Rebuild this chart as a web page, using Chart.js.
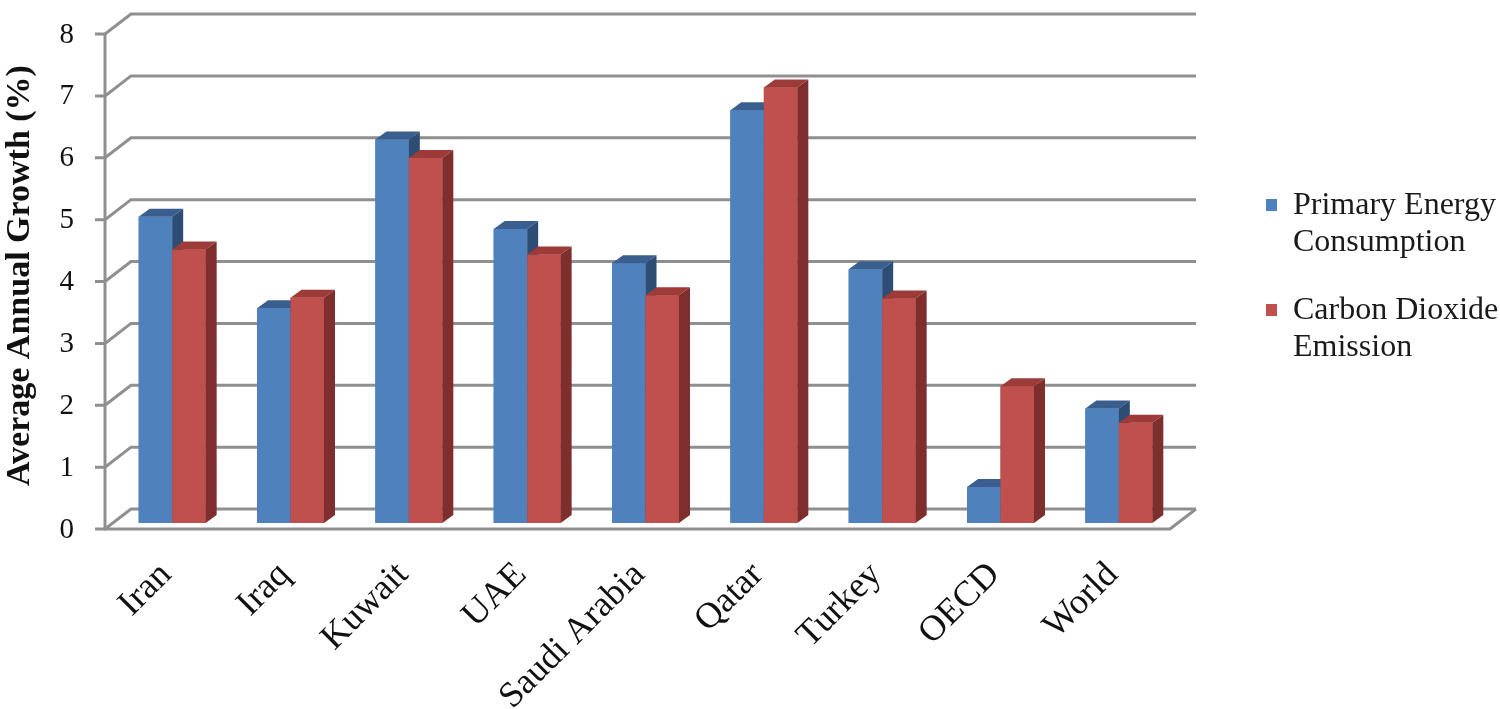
<!DOCTYPE html>
<html>
<head>
<meta charset="utf-8">
<title>Average Annual Growth</title>
<script src="https://cdn.jsdelivr.net/npm/chart.js@4.4.1/dist/chart.umd.min.js"></script>
<style>
    html, body { margin: 0; padding: 0; background: #ffffff; }
    #wrap { width: 1500px; height: 709px; }
</style>
</head>
<body>
<div id="wrap"><canvas id="growthChart" width="1500" height="709"></canvas></div>
<script>
const countries = ['Iran', 'Iraq', 'Kuwait', 'UAE', 'Saudi Arabia', 'Qatar', 'Turkey', 'OECD', 'World'];
const energyGrowth = [4.95, 3.47, 6.2, 4.75, 4.2, 6.67, 4.1, 0.58, 1.85];
const co2Growth = [4.42, 3.64, 5.9, 4.34, 3.68, 7.04, 3.63, 2.21, 1.62];
const seriesNames = ['Primary Energy Consumption', 'Carbon Dioxide Emission'];
const yTicks = [0, 1, 2, 3, 4, 5, 6, 7, 8];

const serif = '"Liberation Serif", "Times New Roman", serif';
const gridColor = '#8f8f8f';

// face colours for the fake 3d bars
const faceColors = [
    { front: '#4f81bd', top: '#3a5f8e', side: '#2e4d75' },
    { front: '#c0504d', top: '#9c3b38', side: '#7e2f2d' }
];

// offsets from the bar plane to the front edge / back wall, and bar depth
const FRONT = { dx: -8, dy: 6 };
const BACK = { dx: 18, dy: -14 };
const BAR_DEPTH = { dx: 11, dy: -8 };

function poly(ctx, pts) {
    ctx.beginPath();
    ctx.moveTo(pts[0][0], pts[0][1]);
    for (let i = 1; i < pts.length; i++) ctx.lineTo(pts[i][0], pts[i][1]);
    ctx.closePath();
    ctx.fill();
}

function wrapWords(ctx, text, maxWidth) {
    const words = text.split(' ');
    const lines = [];
    let line = '';
    words.forEach(w => {
        const test = line ? line + ' ' + w : w;
        if (line && ctx.measureText(test).width > maxWidth) {
            lines.push(line);
            line = w;
        } else {
            line = test;
        }
    });
    if (line) lines.push(line);
    return lines;
}

const wallsPlugin = {
    id: 'walls',
    beforeDatasetsDraw(chart) {
        const { ctx, chartArea: a, scales: { y } } = chart;
        ctx.save();
        ctx.strokeStyle = gridColor;
        ctx.lineWidth = 3;
        yTicks.forEach(v => {
            const p = y.getPixelForValue(v);
            ctx.beginPath();
            ctx.moveTo(a.left + FRONT.dx - 10, p + FRONT.dy);
            ctx.lineTo(a.left + FRONT.dx, p + FRONT.dy);
            ctx.lineTo(a.left + BACK.dx, p + BACK.dy);
            ctx.lineTo(a.right + BACK.dx, p + BACK.dy);
            ctx.stroke();
        });
        const p0 = y.getPixelForValue(yTicks[0]);
        const pTop = y.getPixelForValue(yTicks[yTicks.length - 1]);
        ctx.beginPath();
        ctx.moveTo(a.left + FRONT.dx, pTop + FRONT.dy);
        ctx.lineTo(a.left + FRONT.dx, p0 + FRONT.dy);
        ctx.lineTo(a.right + FRONT.dx, p0 + FRONT.dy);
        ctx.lineTo(a.right + BACK.dx, p0 + BACK.dy);
        ctx.stroke();
        ctx.restore();
    },
    afterDatasetsDraw(chart) {
        const { ctx } = chart;
        const metas = chart.data.datasets.map((ds, d) => chart.getDatasetMeta(d));
        ctx.save();
        countries.forEach((c, i) => {
            metas.forEach((meta, d) => {
                const bar = meta.data[i];
                const { x, y, base, width } = bar.getProps(['x', 'y', 'base', 'width'], true);
                const l = x - width / 2;
                const r = x + width / 2;
                const col = faceColors[d];
                ctx.fillStyle = col.front;
                ctx.fillRect(l, y, width, base - y);
                ctx.fillStyle = col.top;
                poly(ctx, [[l, y], [l + BAR_DEPTH.dx, y + BAR_DEPTH.dy], [r + BAR_DEPTH.dx, y + BAR_DEPTH.dy], [r, y]]);
                ctx.fillStyle = col.side;
                poly(ctx, [[r, y], [r + BAR_DEPTH.dx, y + BAR_DEPTH.dy], [r + BAR_DEPTH.dx, base + BAR_DEPTH.dy], [r, base]]);
            });
        });
        ctx.restore();
    }
};

const sideLegend = {
    id: 'sideLegend',
    afterDraw(chart) {
        const { ctx } = chart;
        const baselines = [214, 319];
        ctx.save();
        ctx.font = '32px ' + serif;
        ctx.textBaseline = 'alphabetic';
        chart.data.datasets.forEach((ds, d) => {
            const lines = wrapWords(ctx, ds.label, 215);
            ctx.fillStyle = faceColors[d].front;
            ctx.fillRect(1266, baselines[d] - 15, 11, 12);
            ctx.fillStyle = '#1a1a1a';
            lines.forEach((ln, k) => ctx.fillText(ln, 1293, baselines[d] + k * 37));
        });
        ctx.restore();
    }
};

const ctx = document.getElementById('growthChart').getContext('2d');

new Chart(ctx, {
    type: 'bar',
    data: {
        labels: countries,
        datasets: [{
            label: seriesNames[0],
            data: energyGrowth,
            backgroundColor: faceColors[0].front,
            borderWidth: 0
        }, {
            label: seriesNames[1],
            data: co2Growth,
            backgroundColor: faceColors[1].front,
            borderWidth: 0
        }]
    },
    options: {
        responsive: false,
        animation: false,
        events: [],
        layout: {
            padding: { top: 28, right: 322, bottom: 0, left: 0 }
        },
        datasets: {
            bar: { categoryPercentage: 0.566, barPercentage: 1.0 }
        },
        plugins: {
            legend: { display: false },
            tooltip: { enabled: false }
        },
        scales: {
            x: {
                // ticks hidden, tickLength only used as label gap
                grid: { display: false, drawTicks: true, tickLength: 31 },
                border: { display: false },
                ticks: {
                    color: '#111111',
                    font: { family: serif, size: 36 },
                    maxRotation: 45,
                    minRotation: 45,
                    padding: 0,
                    labelOffset: -6,
                    autoSkip: false
                },
                afterFit(scale) { scale.height = 186; }
            },
            y: {
                min: 0,
                max: 8,
                grid: { display: false, drawTicks: true, tickLength: 39 },
                border: { display: false },
                ticks: {
                    stepSize: 1,
                    color: '#111111',
                    font: { family: serif, size: 29 },
                    padding: 0,
                    labelOffset: 7
                },
                title: {
                    display: true,
                    text: 'Average Annual Growth (%)',
                    color: '#111111',
                    font: { family: serif, size: 34, weight: 'bold' },
                    padding: 0
                },
                afterFit(scale) { scale.width = 113; }
            }
        }
    },
    plugins: [wallsPlugin, sideLegend]
});
</script>
</body>
</html>
